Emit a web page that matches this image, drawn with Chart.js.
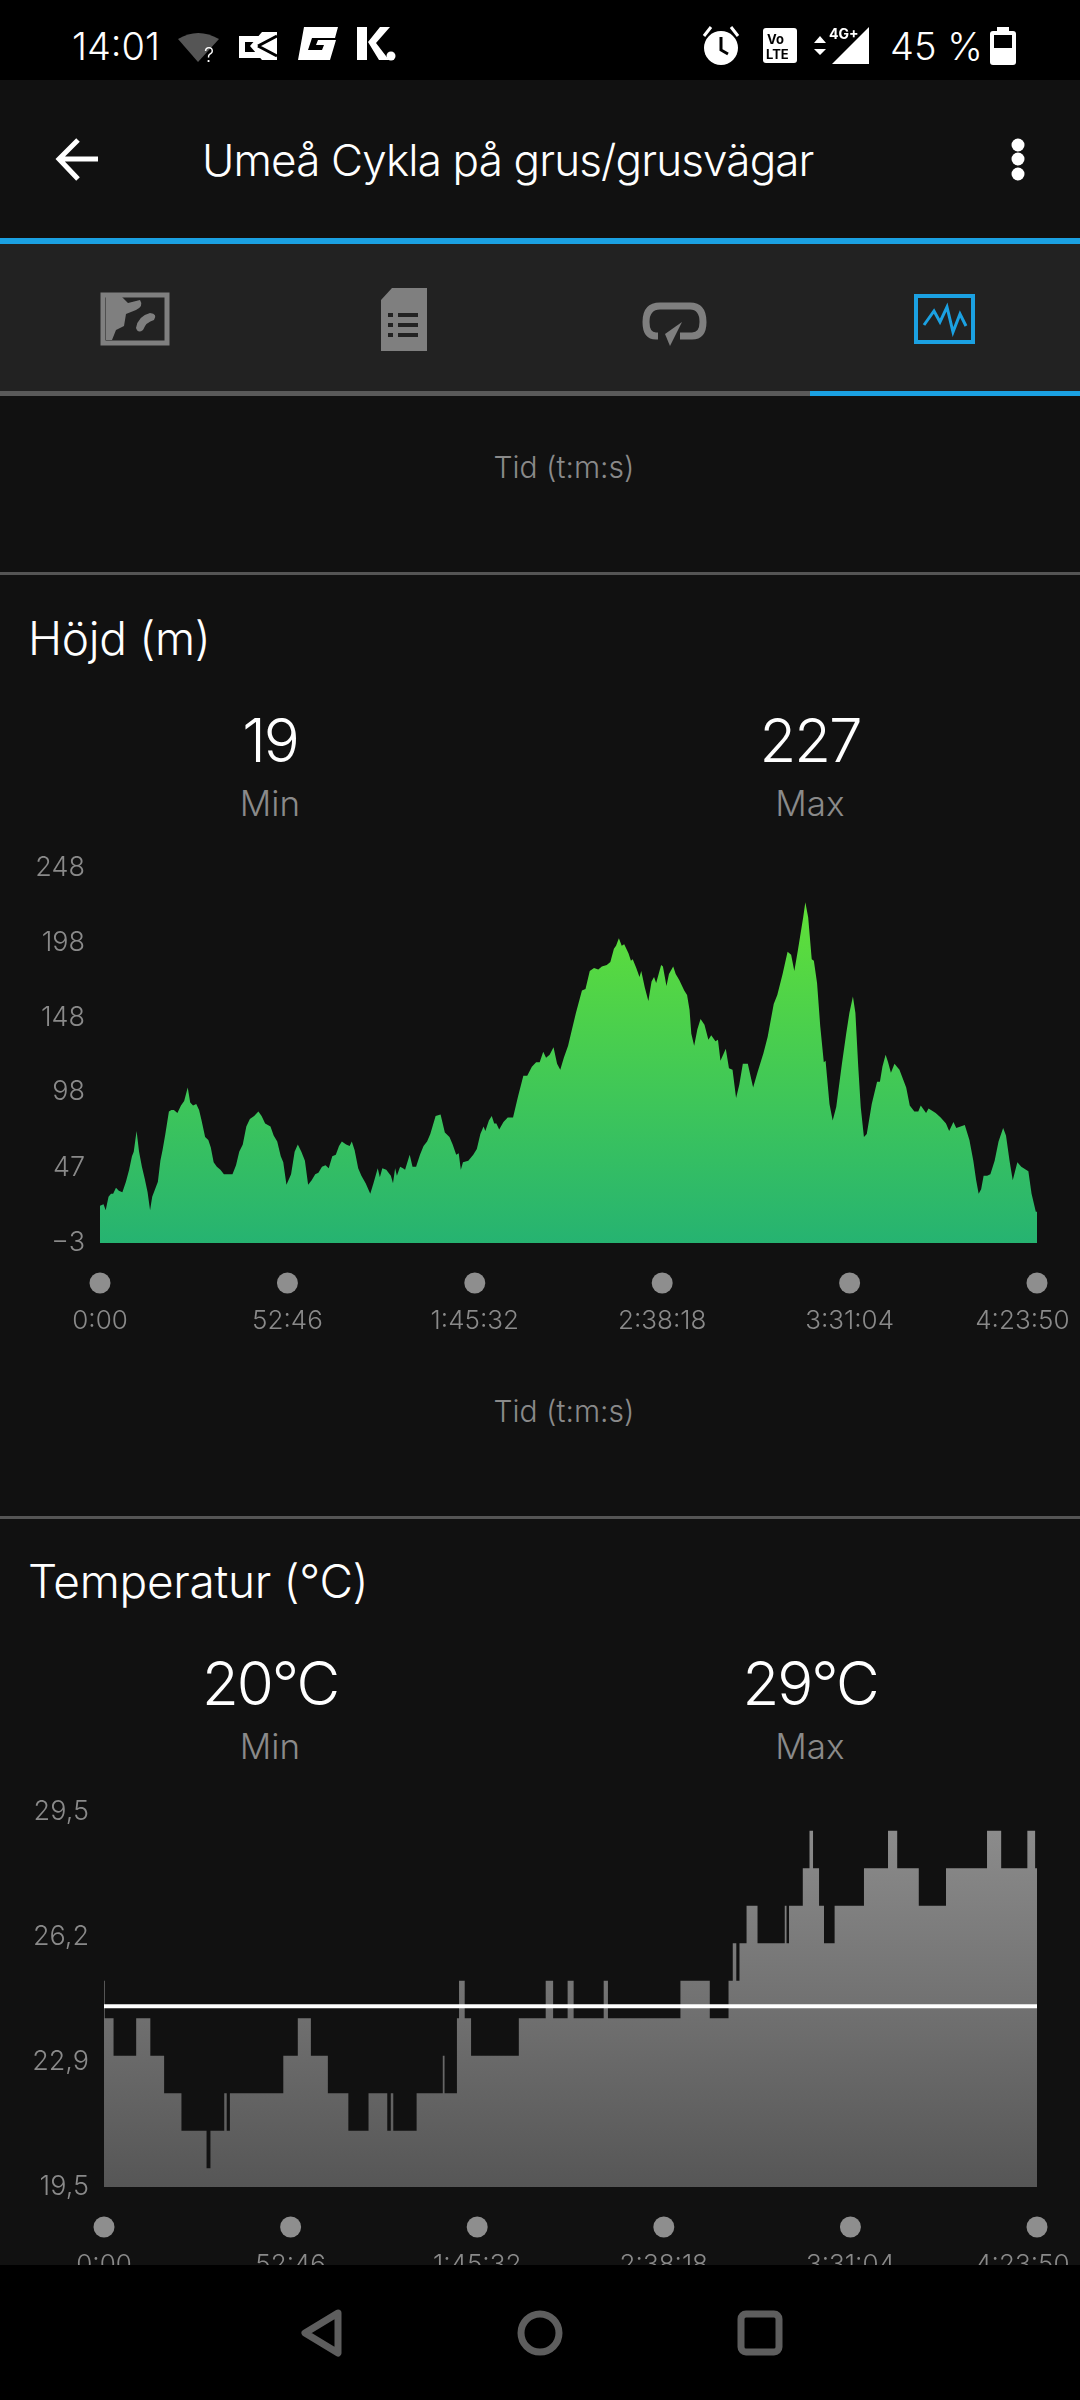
<!DOCTYPE html>
<html>
<head>
<meta charset="utf-8">
<title>Umeå Cykla på grus/grusvägar</title>
<script src="https://cdn.jsdelivr.net/npm/chart.js@4/dist/chart.umd.min.js"></script>
<style>
html, body { margin:0; padding:0; background:#111; }
body { position:relative; width:1080px; height:2400px; overflow:hidden; font-family:Inter, Roboto, sans-serif; font-weight:300; color:#fff; }
.box { position:absolute; }
.t { position:absolute; white-space:nowrap; line-height:1; transform:translateY(-50%); }
.c { transform:translate(-50%,-50%); }
.grey { color:#8a8a8a; }
.big { font-size:60px; letter-spacing:-2px; }
.head { font-size:46px; letter-spacing:-0.3px; }
canvas { position:absolute; left:0; }
svg { position:absolute; left:0; top:0; }
</style>
</head>
<body>

<div class="box" style="left:0;top:0;width:1080px;height:80px;background:#000"></div>
<div class="box" style="left:0;top:238px;width:1080px;height:6px;background:#1ba1e2"></div>
<div class="box" style="left:0;top:244px;width:1080px;height:147px;background:#222"></div>
<div class="box" style="left:0;top:391px;width:810px;height:5px;background:#5a5a5a"></div>
<div class="box" style="left:810px;top:391px;width:270px;height:5px;background:#1ba1e2"></div>
<div class="box" style="left:0;top:572px;width:1080px;height:3px;background:#555"></div>
<div class="box" style="left:0;top:1516px;width:1080px;height:3px;background:#555"></div>

<div class="t" style="left:72px;top:46px;font-size:38px">14:01</div>
<div class="t" style="left:890px;top:46px;font-size:38px">45 %</div>
<div class="t" style="left:202px;top:160px;font-size:44px;letter-spacing:-0.85px">Umeå Cykla på grus/grusvägar</div>

<div class="t c grey" style="left:564px;top:467px;font-size:30px">Tid (t:m:s)</div>
<div class="t head" style="left:28px;top:638px">Höjd (m)</div>
<div class="t c big" style="left:270px;top:740px">19</div>
<div class="t c grey" style="left:270px;top:803px;font-size:35px">Min</div>
<div class="t c big" style="left:810px;top:740px">227</div>
<div class="t c grey" style="left:810px;top:803px;font-size:35px">Max</div>
<div class="t c grey" style="left:564px;top:1411px;font-size:30px">Tid (t:m:s)</div>

<div class="t head" style="left:28px;top:1581px">Temperatur (°C)</div>
<div class="t c big" style="left:270px;top:1683px">20°C</div>
<div class="t c grey" style="left:270px;top:1746px;font-size:35px">Min</div>
<div class="t c big" style="left:810px;top:1683px">29°C</div>
<div class="t c grey" style="left:810px;top:1746px;font-size:35px">Max</div>

<canvas id="hojd" width="1080" height="493" style="top:850px;width:1080px;height:493px"></canvas>
<canvas id="temp" width="1080" height="493" style="top:1794px;width:1080px;height:493px"></canvas>

<div class="box" style="left:0;top:2265px;width:1080px;height:135px;background:#000"></div>

<svg width="1080" height="2400" viewBox="0 0 1080 2400">
  <!-- status bar -->
  <path d="M178 39 Q198 27 219 39 L198 62 Z" fill="#555"/>
  <text x="204" y="62" font-size="20" fill="#fff" font-family="Inter">?</text>
  <rect x="239" y="36" width="22" height="22" fill="#fff"/><rect x="245" y="42" width="10" height="10" fill="#000"/>
  <path d="M262 32 L277 32 L277 60 L262 60 L250 46 Z" fill="#fff"/><path d="M258 46 L277 36 M258 46 L277 56" stroke="#000" stroke-width="3"/>
  <path d="M304 27 L338 27 L335 38 L312 38 L308 50 L322 50 L324 45 L316 45 L318 40 L336 40 L330 60 L298 60 Z" fill="#fff"/>
  <path d="M357 27 L367 27 L367 60 L357 60 Z M368 42 L380 27 L390 27 L376 43 L389 60 L379 60 Z" fill="#fff"/><circle cx="391" cy="56" r="4.5" fill="#fff"/>
  <circle cx="721" cy="48" r="17" fill="#fff"/><path d="M721 37 V50 L728 54" stroke="#000" stroke-width="3" fill="none"/>
  <path d="M704 36 L711 27 M738 36 L731 27" stroke="#fff" stroke-width="3"/>
  <rect x="763" y="28" width="34" height="35" rx="3" fill="#fff"/>
  <text x="767" y="44" font-size="13" font-weight="700" fill="#000" font-family="Inter">Vo</text>
  <text x="766" y="59" font-size="13" font-weight="700" fill="#000" font-family="Inter">LTE</text>
  <path d="M814 43 L820 36 L826 43 Z M814 49 L826 49 L820 55 Z" fill="#fff"/>
  <path d="M832 64 L869 27 L869 64 Z" fill="#fff"/>
  <text x="829" y="39" font-size="14" font-weight="700" fill="#fff" font-family="Inter">4G+</text>
  <rect x="990" y="31" width="26" height="34" rx="3" fill="#fff"/><rect x="997" y="27" width="12" height="5" fill="#fff"/>
  <rect x="994" y="35" width="18" height="13" fill="#000"/>
  <!-- app bar -->
  <path d="M98 159 H60 M78 140 L59 159 L78 179" stroke="#fff" stroke-width="5" fill="none"/>
  <circle cx="1018" cy="145" r="6.5" fill="#fff"/><circle cx="1018" cy="159" r="6.5" fill="#fff"/><circle cx="1018" cy="174" r="6.5" fill="#fff"/>
  <!-- tab icons -->
  <rect x="103" y="295" width="64" height="48" fill="#222" stroke="#7f7f7f" stroke-width="5"/>
  <path d="M106 297 H122 L128 303 L140 300 Q144 306 136 310 L126 314 L124 326 L116 330 L112 340 H106 Z M136 328 Q138 316 150 313 Q158 314 154 320 Q146 322 143 330 Q138 334 136 328 Z" fill="#7f7f7f"/>
  <path d="M392 288 H427 V351 H381 V300 Z" fill="#7f7f7f"/>
  <path d="M398 315 H418 M398 325 H418 M398 335 H418 M388 315 H393 M388 325 H393 M388 335 H393" stroke="#222" stroke-width="4"/>
  <path d="M658 336 H656 Q646 336 646 322 Q646 306 660 306 H690 Q703 306 703 322 Q703 336 692 336 H680" fill="none" stroke="#7f7f7f" stroke-width="7"/>
  <path d="M682 322 L665 334 L670 346 Z" fill="#7f7f7f"/>
  <rect x="916" y="296" width="57" height="46" fill="none" stroke="#1ba1e2" stroke-width="4"/>
  <path d="M924 325 L934 311 L940 322 L947 307 L953 332 L960 314 L966 326" fill="none" stroke="#1ba1e2" stroke-width="3"/>
  <!-- navigation bar -->
  <path d="M338 2313 L305 2333 L338 2353 Z" fill="none" stroke="#5e5e5e" stroke-width="7" stroke-linejoin="round"/>
  <circle cx="540" cy="2333" r="19" fill="none" stroke="#5e5e5e" stroke-width="7"/>
  <rect x="741" y="2314" width="38" height="38" rx="5" fill="none" stroke="#5e5e5e" stroke-width="7"/>
</svg>

<script>
// hojdprofil, avlast fran bilden (minuter, meter)
var elevMinutes = [0,1,1.6,2.4,3.1,3.7,4.5,5.3,6.3,7.3,8.2,9,9.5,10.3,11,11.8,12.6,13.4,14.1,14.7,15.5,16.3,17,17.6,18.4,19.4,20.1,20.8,21.8,22.8,23.7,24.7,25.4,26.2,27.1,27.9,28.6,29.6,30.5,31.2,32,32.9,33.9,34.9,35.9,37.3,38.3,39.2,40.2,41.2,42.2,43.4,44.6,45.5,46.5,48,48.9,49.9,50.9,51.6,52.5,53.8,54.8,55.7,56.7,57.7,58.6,59.6,60.6,61.5,62.5,63.5,64.4,65.4,66.4,67.3,68.1,69.3,70.3,70.9,71.7,72.7,73.6,74.8,76.1,77,78.2,78.8,79.5,80.6,81.9,82.5,83.1,83.6,84.5,85.3,85.9,87.2,88,89,90.1,91.1,92.1,93,94.5,95.9,97.1,98.4,99.3,100.3,101,101.6,102.2,103.7,105.1,106.1,107.1,108,108.5,109.5,110.3,111,111.6,112.4,113.6,114.8,116.3,117.7,119.2,120.3,121.6,122.8,123.8,124.8,125.6,126.6,127.7,128.7,129.6,130.6,131.8,132.8,134,135.7,136.7,137.9,139.1,140.3,141.3,142.7,143.7,144.7,145.3,146.1,146.9,147.6,148.8,149.5,150,151,151.9,152.4,153.4,154.4,155.3,156,156.6,158,158.5,159.5,160.2,161.4,162.1,163.1,164.5,165.3,166,166.5,167.3,168.2,169.1,170.2,171.3,172.1,173.3,174,174.7,176.2,177.1,178.1,179.1,180,181,182.4,183.9,185.1,186.8,188,189.7,190.7,192.2,193.6,194.6,195.5,196.5,198,198.6,199.4,200.4,201,201.9,202.8,203.8,204.3,205.4,206.3,207.3,208.9,210.1,211,212,212.7,213.5,214.2,215.1,215.9,217.3,218.8,219.6,220.3,221.2,221.9,222.7,223.7,225.1,227,228,229.3,230.4,231.1,232.6,233.3,235.3,236.7,238.2,239.1,240.3,241.1,243.5,244.8,245.9,246.7,247.4,248.1,248.8,249.8,250.7,251.9,253,254.3,255.1,256.1,257,258.3,259.4,261.4,262.3,263.5,263.83];
var elevMeters = [22,23,19,28,30,30,34,32,31,38,46,55,58,72,58,48,40,31,19,28,33,38,52,59,70,85,86,86,84,89,92,101,91,89,90,86,79,68,66,61,51,48,46,43,43,43,49,58,63,75,80,82,85,82,77,75,69,65,55,51,36,43,58,63,58,52,36,39,43,44,48,49,47,55,56,62,65,63,62,65,59,47,42,37,30,37,47,41,47,46,42,37,47,42,48,47,46,56,48,48,56,62,65,70,82,83,71,68,63,56,57,46,51,52,56,60,70,75,72,79,82,77,77,73,78,81,81,95,109,109,115,118,118,125,121,123,128,117,113,121,129,139,151,166,167,179,181,180,182,183,185,194,196,201,196,197,191,186,187,181,175,179,168,159,172,175,171,183,182,169,177,182,177,173,166,163,153,137,129,140,147,143,133,136,132,133,119,127,114,113,94,103,117,117,101,111,124,135,157,163,177,192,190,179,193,215,225,215,187,186,171,142,118,119,90,79,88,117,137,151,162,151,115,88,68,70,90,105,105,115,123,118,111,117,113,101,89,85,85,89,84,87,84,81,77,72,78,74,76,66,52,39,30,33,42,42,43,52,65,74,69,52,39,51,48,45,30,18,18];
var elevTicks = [-3,47,98,148,198,248];
var elevTickLabels = ['\u22123','47','98','148','198','248'];

// temperatur, ett varde galler tills nasta tid
var tempMinutes = [0,0.2,2.7,9.1,13.1,17,21.9,29,30.1,34,34.7,35.6,50.7,54.8,58.5,63.3,69.1,74.8,80.1,81.1,81.8,88.4,95.8,96.3,99.8,100.4,102,103.8,117.3,124.9,127,131.1,132.8,141.3,142.5,163,171.3,176.6,177.8,178.8,179.7,181.7,184.8,192.5,193,193.7,197.6,199.5,200.5,202.2,203.6,206.6,214.9,221.7,224.3,230.4,238.1,249.7,253.7,261.1,263.3,263.83];
var tempValues = [25,24,23,24,23,22,21,20,21,22,21,22,23,24,23,22,21,22,21,22,21,22,23,22,24,25,24,23,24,25,24,25,24,25,24,25,24,25,26,25,26,27,26,27,26,27,28,29,28,27,26,27,28,29,28,27,28,29,28,29,28,28];
var tempAverage = 24.32;
var tempTicks = [19.5,22.83,26.17,29.5];
var tempTickLabels = ['19,5','22,9','26,2','29,5'];

var xTickMinutes = [0,52.77,105.53,158.3,211.07,263.83];
var xTickLabels = ['0:00','52:46','1:45:32','2:38:18','3:31:04','4:23:50'];
var xMax = 263.83;

var tickColor = '#8a8a8a';

// grey dots under the plot, one for each time tick
var axisDots = {
    id:'axisDots',
    afterDraw:function(chart){
        var ctx = chart.ctx, sx = chart.scales.x;
        ctx.save();
        ctx.fillStyle = '#8e8e8e';
        sx.ticks.forEach(function(t, i){
            ctx.beginPath();
            ctx.arc(sx.getPixelForTick(i), chart.chartArea.bottom + 40, 10.5, 0, Math.PI*2);
            ctx.fill();
        });
        ctx.restore();
    }
};

function points(xs, ys){
    return xs.map(function(x, i){ return {x:x, y:ys[i]}; });
}

function gradient(top, bottom){
    return function(c){
        var a = c.chart.chartArea;
        if(!a) return top;
        var g = c.chart.ctx.createLinearGradient(0, a.top, 0, a.bottom);
        g.addColorStop(0, top);
        g.addColorStop(1, bottom);
        return g;
    };
}

function options(left, yMin, yMax, yTicks, yLabels){
    return {
        responsive:false,
        animation:false,
        devicePixelRatio:1,
        layout:{padding:{top:18, right:43, bottom:0, left:0}},
        plugins:{legend:{display:false}, tooltip:{enabled:false}},
        scales:{
            x:{
                type:'linear', min:0, max:xMax,
                grid:{display:false, drawTicks:false}, border:{display:false},
                afterBuildTicks:function(s){ s.ticks = xTickMinutes.map(function(v){ return {value:v}; }); },
                afterFit:function(s){ s.height = 100; s.paddingLeft = 0; s.paddingRight = 0; },
                ticks:{
                    autoSkip:false, maxRotation:0, minRotation:0, padding:63, color:tickColor,
                    font:{family:'Inter', size:26, weight:'300'},
                    // the last label is pushed left so it stays on screen
                    callback:function(v, i){ return i == xTickLabels.length-1 ? xTickLabels[i] + '    ' : xTickLabels[i]; }
                }
            },
            y:{
                min:yMin, max:yMax,
                grid:{display:false, drawTicks:false}, border:{display:false},
                afterBuildTicks:function(s){ s.ticks = yTicks.map(function(v){ return {value:v}; }); },
                afterFit:function(s){ s.width = left; s.paddingTop = 0; s.paddingBottom = 0; },
                ticks:{
                    autoSkip:false, padding:15, color:tickColor,
                    font:{family:'Inter', size:27, weight:'300'},
                    callback:function(v, i){ return yLabels[i]; }
                }
            }
        }
    };
}

new Chart(document.getElementById('hojd'), {
    type:'line',
    data:{datasets:[{
        label:'Höjd (m)',
        data:points(elevMinutes, elevMeters),
        fill:'start',
        backgroundColor:gradient('#66e532', '#26b371'),
        borderWidth:0,
        pointRadius:0,
        tension:0
    }]},
    options:options(100, -3, 248, elevTicks, elevTickLabels),
    plugins:[axisDots]
});

new Chart(document.getElementById('temp'), {
    type:'line',
    data:{datasets:[{
        label:'Medel',
        data:points([0, xMax], [tempAverage, tempAverage]),
        borderColor:'#ffffff',
        borderWidth:4,
        pointRadius:0,
        fill:false
    },{
        label:'Temperatur (°C)',
        data:points(tempMinutes, tempValues),
        stepped:true,
        fill:'start',
        backgroundColor:gradient('#8e8e8e', '#565656'),
        borderWidth:0,
        pointRadius:0
    }]},
    options:options(104, 19.5, 29.5, tempTicks, tempTickLabels),
    plugins:[axisDots]
});
</script>
</body>
</html>
